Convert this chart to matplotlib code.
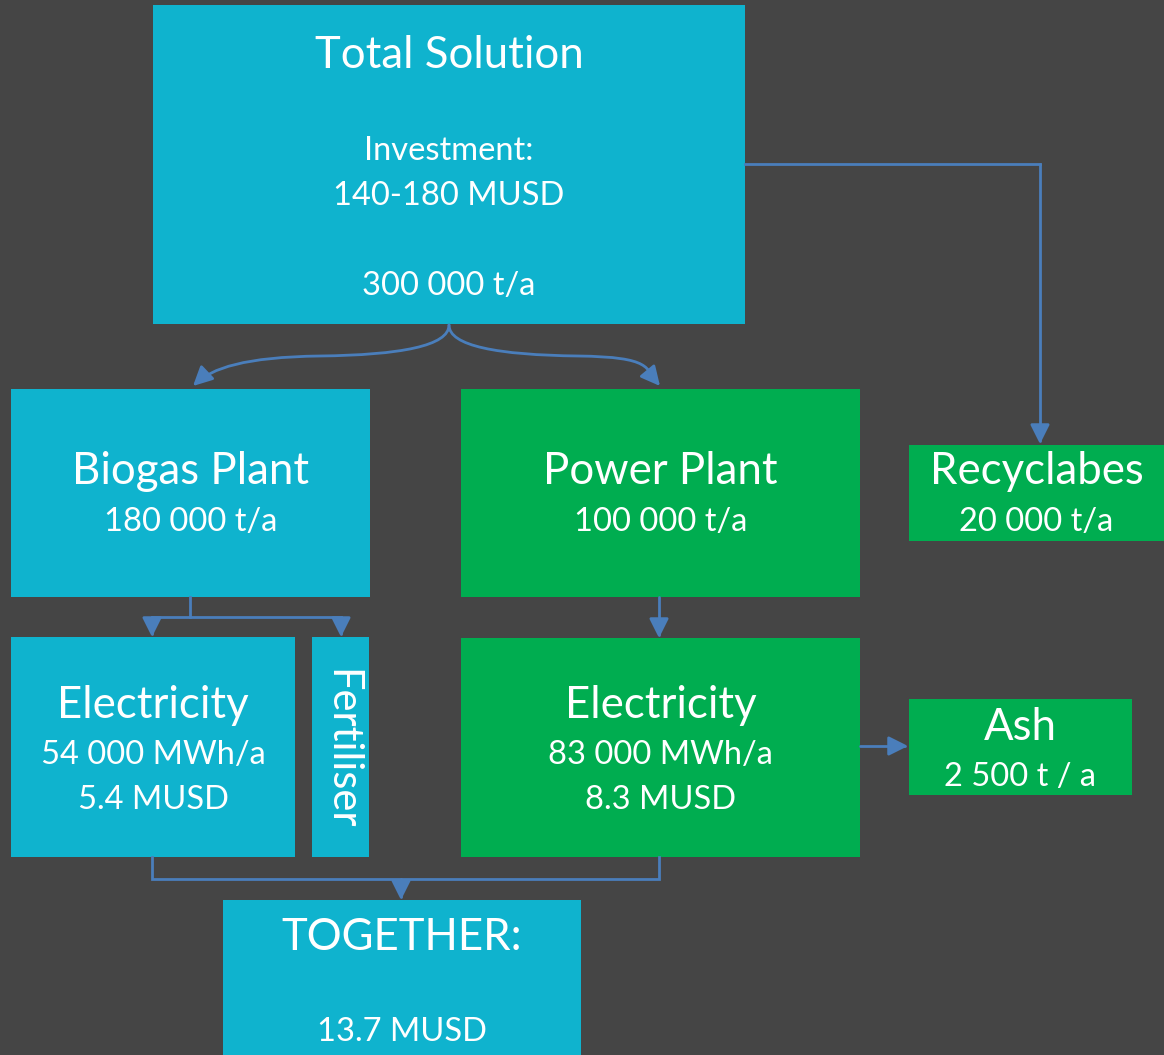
import matplotlib
matplotlib.use("Agg")
import matplotlib.pyplot as plt
from matplotlib.patches import Rectangle, FancyArrowPatch
from matplotlib.path import Path

BG = "#454545"
CYAN = "#0FB3CE"
GREEN = "#00AD50"
ARROW = "#4A7EBB"

# box names, colours and text lines
names = ["total", "biogas", "power", "recycl", "elec_l", "fert", "elec_r", "ash", "together"]
fills = [CYAN, CYAN, GREEN, GREEN, CYAN, CYAN, GREEN, GREEN, CYAN]
titles = ["Total Solution", "Biogas Plant", "Power Plant", "Recyclabes",
          "Electricity", "Fertiliser", "Electricity", "Ash", "TOGETHER:"]
details = [["Investment:", "140-180 MUSD", "", "300 000 t/a"],
           ["180 000 t/a"],
           ["100 000 t/a"],
           ["20 000 t/a"],
           ["54 000 MWh/a", "5.4 MUSD"],
           [],
           ["83 000 MWh/a", "8.3 MUSD"],
           ["2 500 t / a"],
           ["", "13.7 MUSD"]]

# layout in pixels: x0, y0, x1, y1, title y, first detail y, line step
layout = {
    "total":    (153, 5, 745, 324, 56, 151, 45),
    "biogas":   (11, 389, 370, 597, 472, 522, 46),
    "power":    (461, 389, 860, 597, 472, 522, 46),
    "recycl":   (909, 445, 1164, 541, 472, 522, 46),
    "elec_l":   (11, 637, 295, 857, 706, 755, 45),
    "fert":     (312, 637, 369, 857, 749, 0, 0),
    "elec_r":   (461, 638, 860, 857, 706, 755, 45),
    "ash":      (909, 699, 1132, 795, 728, 777, 46),
    "together": (223, 900, 581, 1055, 938, 985, 47),
}

plt.rcParams["font.family"] = ["Lato", "DejaVu Sans"]
fig = plt.figure(figsize=(11.64, 10.55), dpi=100, facecolor=BG)
ax = fig.add_axes([0, 0, 1, 1])
ax.set_xlim(0, 1164)
ax.set_ylim(1055, 0)
ax.axis("off")
ax.set_facecolor(BG)

for name, fc, title, lines in zip(names, fills, titles, details):
    x0, y0, x1, y1, ty, dy, step = layout[name]
    ax.add_patch(Rectangle((x0, y0), x1 - x0, y1 - y0, facecolor=fc, edgecolor="none"))
    cx = (x0 + x1) / 2
    if name == "fert":
        ax.text(cx + 1, ty, title, rotation=270, color="white", fontsize=30,
                ha="center", va="center")
        continue
    ax.text(cx, ty, title, color="white", fontsize=31.5, ha="center", va="center")
    for i, line in enumerate(lines):
        if line:
            ax.text(cx, dy + i * step, line, color="white", fontsize=23.5,
                    ha="center", va="center")

lw = 2.0


def arrow(verts, codes=None):
    p = Path(verts, codes)
    ax.add_patch(FancyArrowPatch(path=p, arrowstyle="-|>,head_length=0.9,head_width=0.45",
                                 mutation_scale=13, color=ARROW, lw=lw,
                                 shrinkA=0, shrinkB=0))


def line(xs, ys):
    ax.plot(xs, ys, color=ARROW, lw=lw, solid_joinstyle="miter")


C4 = Path.CURVE4
# curved split from total solution
arrow([(449, 325), (449, 346), (400, 355), (320, 356),
       (245, 357), (212, 368), (193, 386)],
      [Path.MOVETO, C4, C4, C4, C4, C4, C4])
arrow([(449, 325), (449, 346), (498, 355), (578, 356),
       (653, 357), (645, 368), (660, 386)],
      [Path.MOVETO, C4, C4, C4, C4, C4, C4])

# elbow to recyclables
line([745, 1040], [164, 164])
arrow([(1040, 164), (1040, 444)])

# biogas split
line([190, 190], [597, 617])
line([152, 341], [617, 617])
arrow([(152, 617), (152, 637)])
arrow([(341, 617), (341, 637)])

# power plant to electricity
arrow([(659, 597), (659, 638)])

# electricity to ash
arrow([(860, 746), (908, 746)])

# merge to together
line([152, 152, 659, 659], [857, 879, 879, 857])
arrow([(401, 879), (401, 900)])

fig.savefig("out.png", dpi=100, facecolor=BG)
